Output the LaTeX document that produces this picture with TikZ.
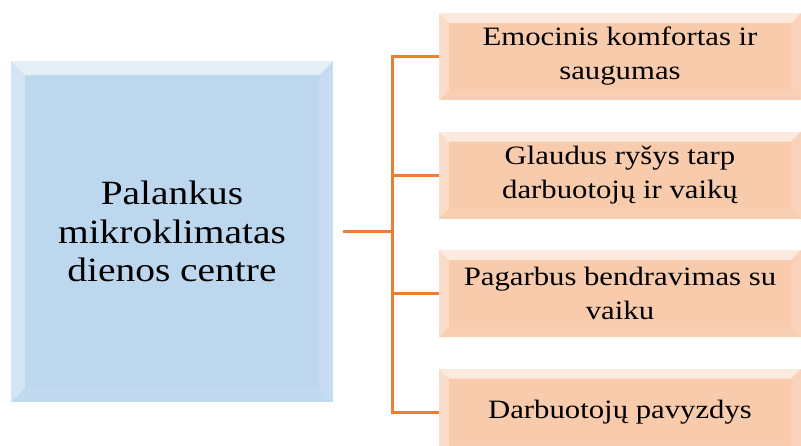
\documentclass[tikz,border=0pt]{standalone}
\usepackage{fontspec}
\setmainfont{Liberation Serif}[FakeStretch=1.16]
\usetikzlibrary{calc,positioning}

\definecolor{boxblue}{HTML}{BDD7EE}
\definecolor{boxorange}{HTML}{F8CBAD}
\definecolor{lineorange}{HTML}{ED7D31}

\newlength{\bevelw}
\setlength{\bevelw}{14pt}

\tikzset{
  bevel/.style={path picture={
    \coordinate (pnw) at (path picture bounding box.north west);
    \coordinate (pne) at (path picture bounding box.north east);
    \coordinate (psw) at (path picture bounding box.south west);
    \coordinate (pse) at (path picture bounding box.south east);
    % top strongest, then left, right and bottom only a touch lighter
    \fill[white, opacity=0.6] (pnw) -- (pne) -- ($(pne)+(-\bevelw,-\bevelw)$) -- ($(pnw)+(\bevelw,-\bevelw)$) -- cycle;
    \fill[white, opacity=0.35] (pnw) -- (psw) -- ($(psw)+(\bevelw,\bevelw)$) -- ($(pnw)+(\bevelw,-\bevelw)$) -- cycle;
    \fill[white, opacity=0.08] (psw) -- (pse) -- ($(pse)+(-\bevelw,\bevelw)$) -- ($(psw)+(\bevelw,\bevelw)$) -- cycle;
    \fill[white, opacity=0.15] (pne) -- (pse) -- ($(pse)+(-\bevelw,\bevelw)$) -- ($(pne)+(-\bevelw,-\bevelw)$) -- cycle;
  }},
  mainbox/.style={bevel, fill=boxblue, minimum width=322pt, minimum height=341pt,
    align=center, inner sep=0pt, outer sep=0pt,
    font=\fontsize{34}{38.5}\selectfont},
  itembox/.style={bevel, fill=boxorange, minimum width=362pt, minimum height=87pt,
    align=center, inner sep=0pt, outer sep=0pt,
    font=\fontsize{26.5}{34}\selectfont},
  link/.style={draw=lineorange, line width=3pt},
}

\begin{document}
\begin{tikzpicture}[x=1pt, y=-1pt]

    \clip (0,0) rectangle (801,445);
    \fill[white] (0,0) rectangle (801,445);

    \node[mainbox] (main) at (172,231.5) {Palankus\\mikroklimatas\\dienos centre};
    \setlength{\bevelw}{10pt}
    \node[itembox] (e1) at (620,56.5) {Emocinis komfortas ir\\saugumas};
    \node[itembox, below=31.5pt of e1] (e2) {Glaudus ryšys tarp\\darbuotojų ir vaikų};
    \node[itembox, below=31.5pt of e2] (e3) {Pagarbus bendravimas su\\vaiku};
    \node[itembox, below=31.5pt of e3] (e4) {Darbuotojų pavyzdys};

    \coordinate (hub) at ([xshift=59pt]main.east);

    \draw[link] ([xshift=10pt]main.east) -- (hub);
    \draw[link] (e1.west) -- (hub |- e1.west) -- (hub |- e4.west) -- (e4.west);
    \foreach \n in {e2,e3}
        \draw[link] (hub |- \n.west) -- (\n.west);

\end{tikzpicture}
\end{document}
